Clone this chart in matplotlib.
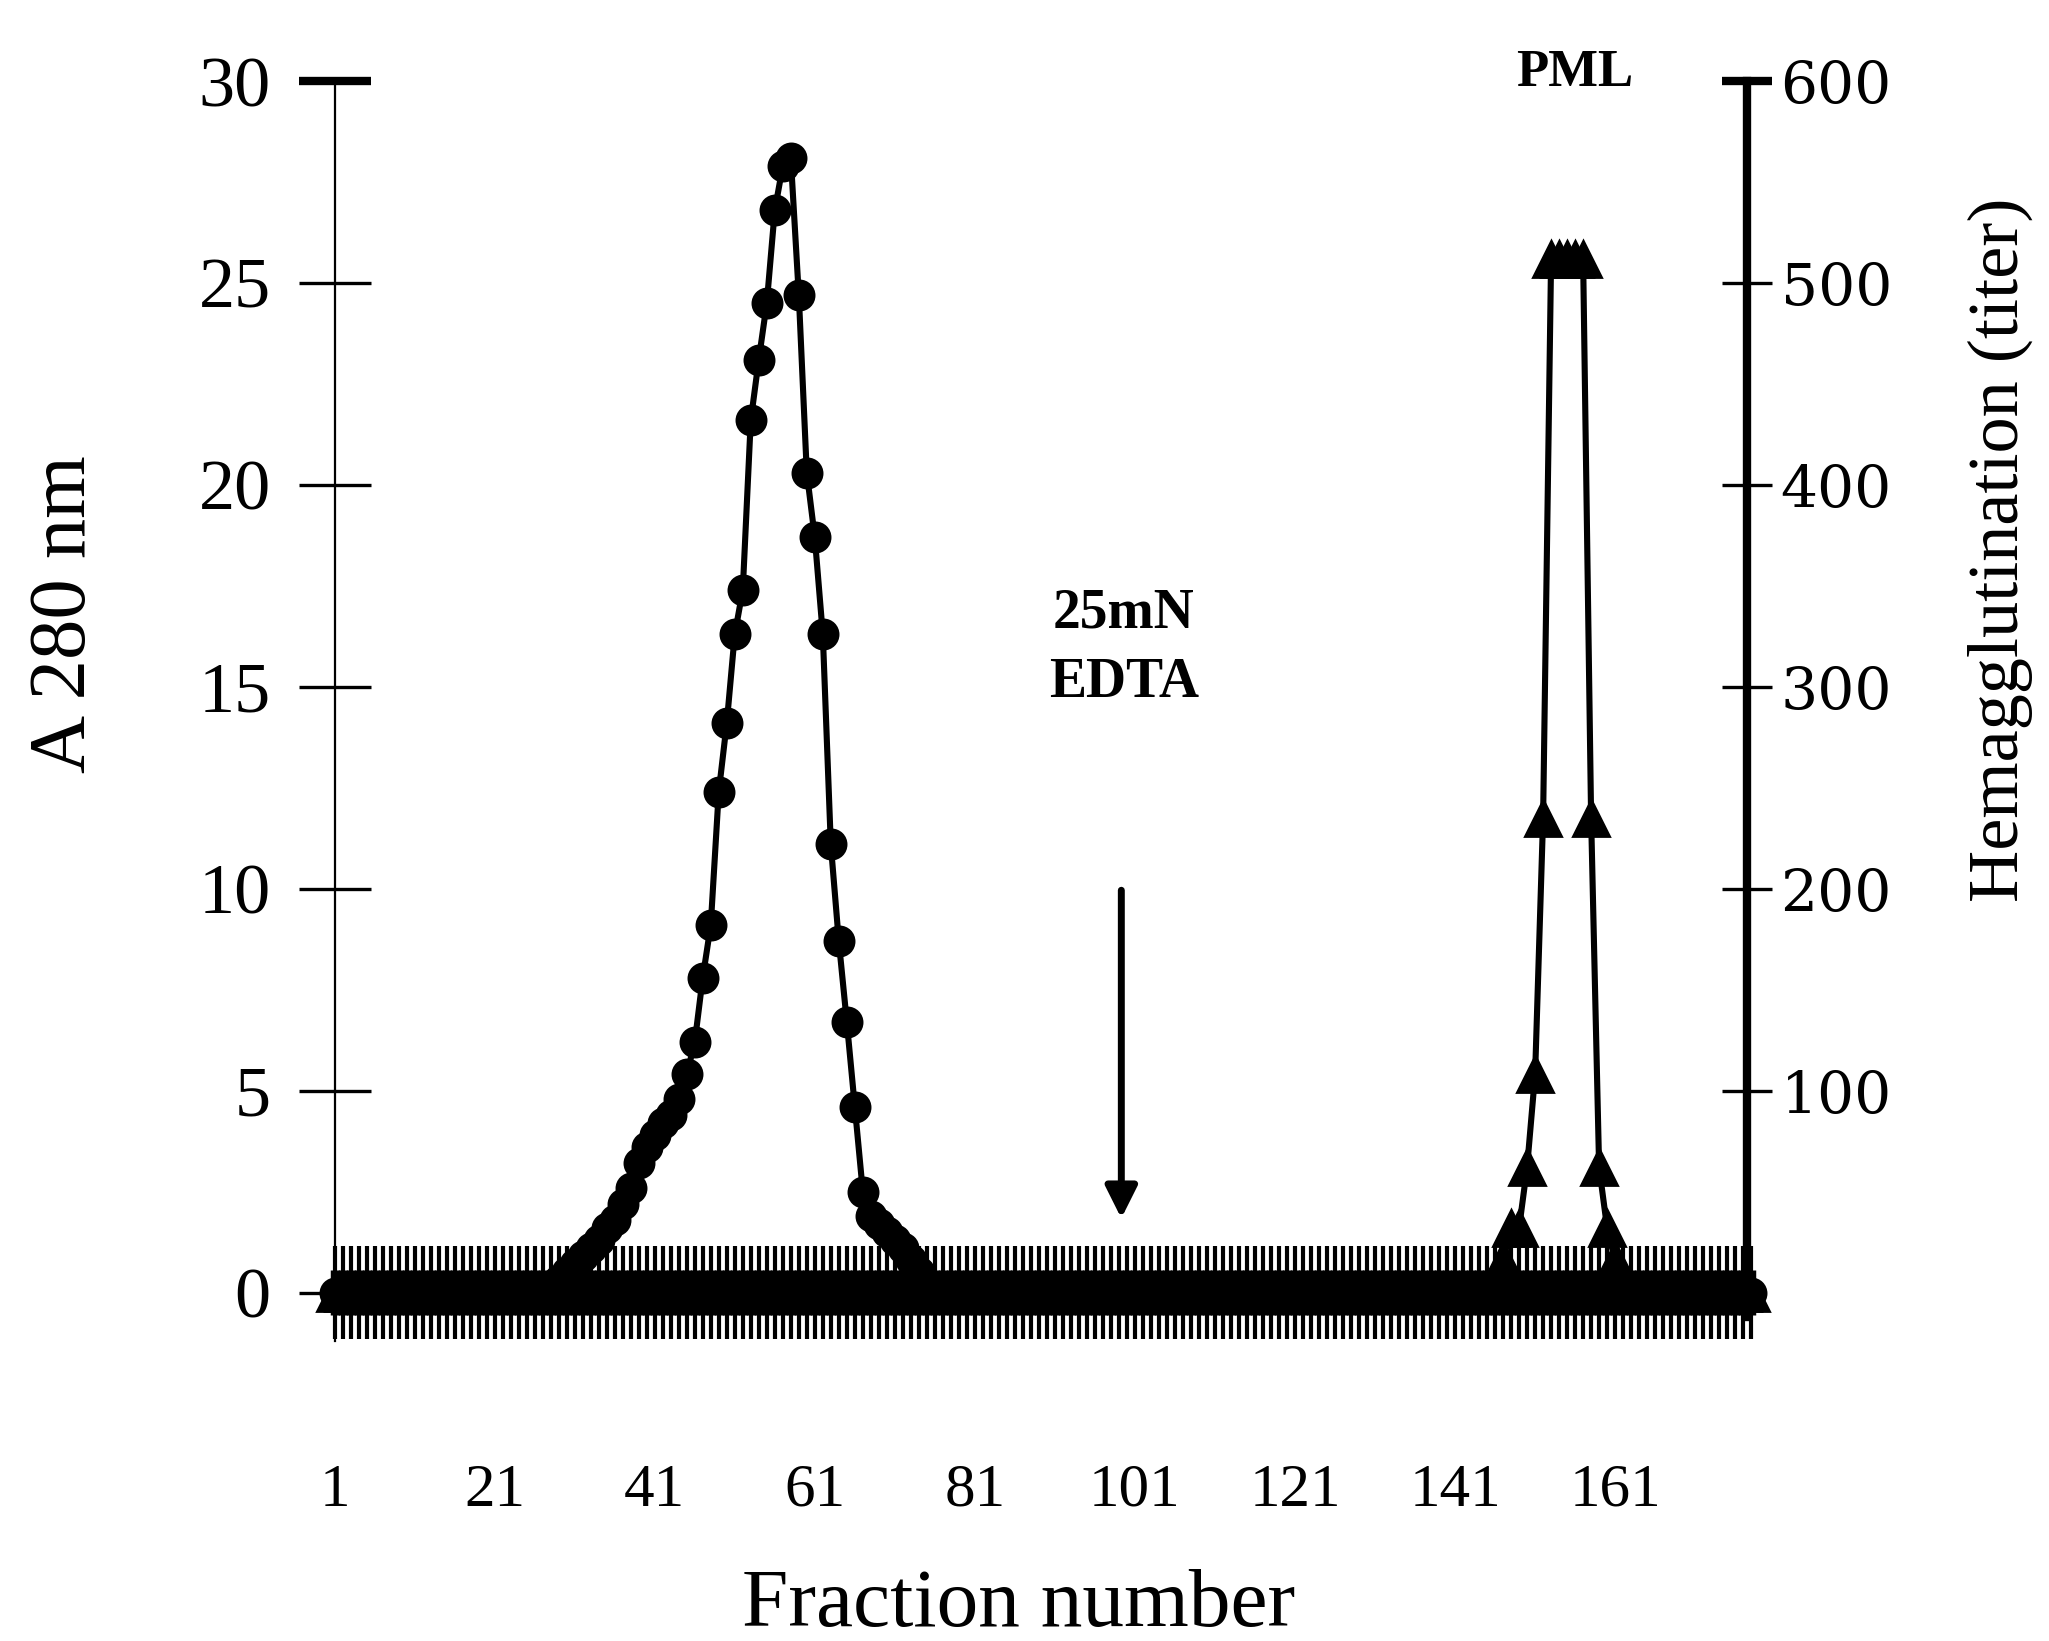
import numpy as np
import matplotlib.pyplot as plt

# fraction numbers 1..178
fraction = np.arange(1, 179)

# A 280 nm readings for fractions 29-75, zero elsewhere
a280_first = 29
a280_peak = [0.3, 0.5, 0.7, 0.9, 1.1, 1.3, 1.6, 1.8, 2.2, 2.6,
             3.2, 3.6, 3.9, 4.2, 4.4, 4.8, 5.4,
             6.2, 7.8, 9.1, 12.4, 14.1, 16.3, 17.4, 21.6, 23.1, 24.5,
             26.8, 27.9, 28.1, 24.7, 20.3, 18.7, 16.3, 11.1, 8.7,
             6.7, 4.6, 2.5, 1.9, 1.7, 1.5, 1.3, 1.1, 0.8, 0.5, 0.2]

# hemagglutination titer for fractions 147-161, zero elsewhere
ha_first = 147
ha_peak = [16, 32, 32, 62, 108, 235, 512, 512, 512, 512, 512, 235, 62, 32, 16]

a280 = np.zeros(len(fraction))
a280[a280_first - 1:a280_first - 1 + len(a280_peak)] = a280_peak
ha = np.zeros(len(fraction))
ha[ha_first - 1:ha_first - 1 + len(ha_peak)] = ha_peak

xticks = [1, 21, 41, 61, 81, 101, 121, 141, 161]
left_ticks = [0, 5, 10, 15, 20, 25, 30]
right_ticks = [100, 200, 300, 400, 500, 600]

serif = 'Liberation Serif'

fig = plt.figure(figsize=(10.245, 8.205), dpi=200)
ax = fig.add_axes([0.1633, 0.1828, 0.6894, 0.7678])
ax2 = ax.twinx()

# baseline comb (the dense zero band)
zeros = np.zeros(len(fraction))
ax.errorbar(fraction, zeros, yerr=1.15, fmt='none', ecolor='k',
            elinewidth=1.5, clip_on=False, zorder=2)
ax.errorbar(fraction, zeros, yerr=0.55, fmt='none', ecolor='k',
            elinewidth=3.4, clip_on=False, zorder=2)

ax.plot(fraction, a280, color='k', lw=2.2, marker='o', ms=10.5,
        clip_on=False, zorder=3)
ax2.plot(fraction, ha, color='k', lw=2.2, marker='^', ms=13,
         clip_on=False, zorder=3)

ax.set_xlim(1, 177.5)
ax.set_ylim(-1.2, 30)
ax2.set_ylim(-24, 600)

for s in ['top', 'bottom', 'right']:
    ax.spines[s].set_visible(False)
for s in ['top', 'bottom', 'left']:
    ax2.spines[s].set_visible(False)
ax.spines['left'].set_linewidth(0.8)
ax2.spines['right'].set_linewidth(3.0)
ax2.spines['right'].set_bounds(-12, 600)

ax.set_xticks(xticks)
ax.set_xticklabels([str(v) for v in xticks], fontfamily=serif, fontsize=22)
ax.tick_params(axis='x', length=0, pad=44)

ax.set_yticks(left_ticks)
ax.set_yticklabels([str(v) for v in left_ticks], fontfamily=serif, fontsize=26)
ax.tick_params(axis='y', direction='inout', length=26, width=1.2, pad=10)
ax.yaxis.get_major_ticks()[-1].tick1line.set_markeredgewidth(3.0)

ax2.set_yticks(right_ticks)
ax2.set_yticklabels([str(v) for v in right_ticks], fontfamily='DejaVu Serif',
                    fontsize=21)
ax2.tick_params(axis='y', direction='inout', length=18, width=1.2, pad=3)
ax2.yaxis.get_major_ticks()[-1].tick2line.set_markeredgewidth(3.0)

fig.text(0.032, 0.626, 'A 280 nm', rotation=90, ha='center', va='center',
         fontfamily=serif, fontsize=29)
fig.text(0.976, 0.665, 'Hemagglutination (titer)', rotation=90, ha='center',
         va='center', fontfamily=serif, fontsize=26)
fig.text(0.497, 0.021, 'Fraction number', ha='center', va='center',
         fontfamily=serif, fontsize=30)

ax.text(156, 30.2, 'PML', ha='center', va='center', fontfamily=serif,
        fontsize=19, fontweight='bold', clip_on=False)
ax.text(99.6, 15.95, '25mN\nEDTA', ha='center', va='center', fontfamily=serif,
        fontsize=20, fontweight='bold', linespacing=1.45)
ax.annotate('', xy=(99.3, 1.7), xytext=(99.3, 10.1),
            arrowprops=dict(arrowstyle='-|>', color='k', lw=2.5,
                            mutation_scale=24))

fig.savefig('out.png', dpi=200)
